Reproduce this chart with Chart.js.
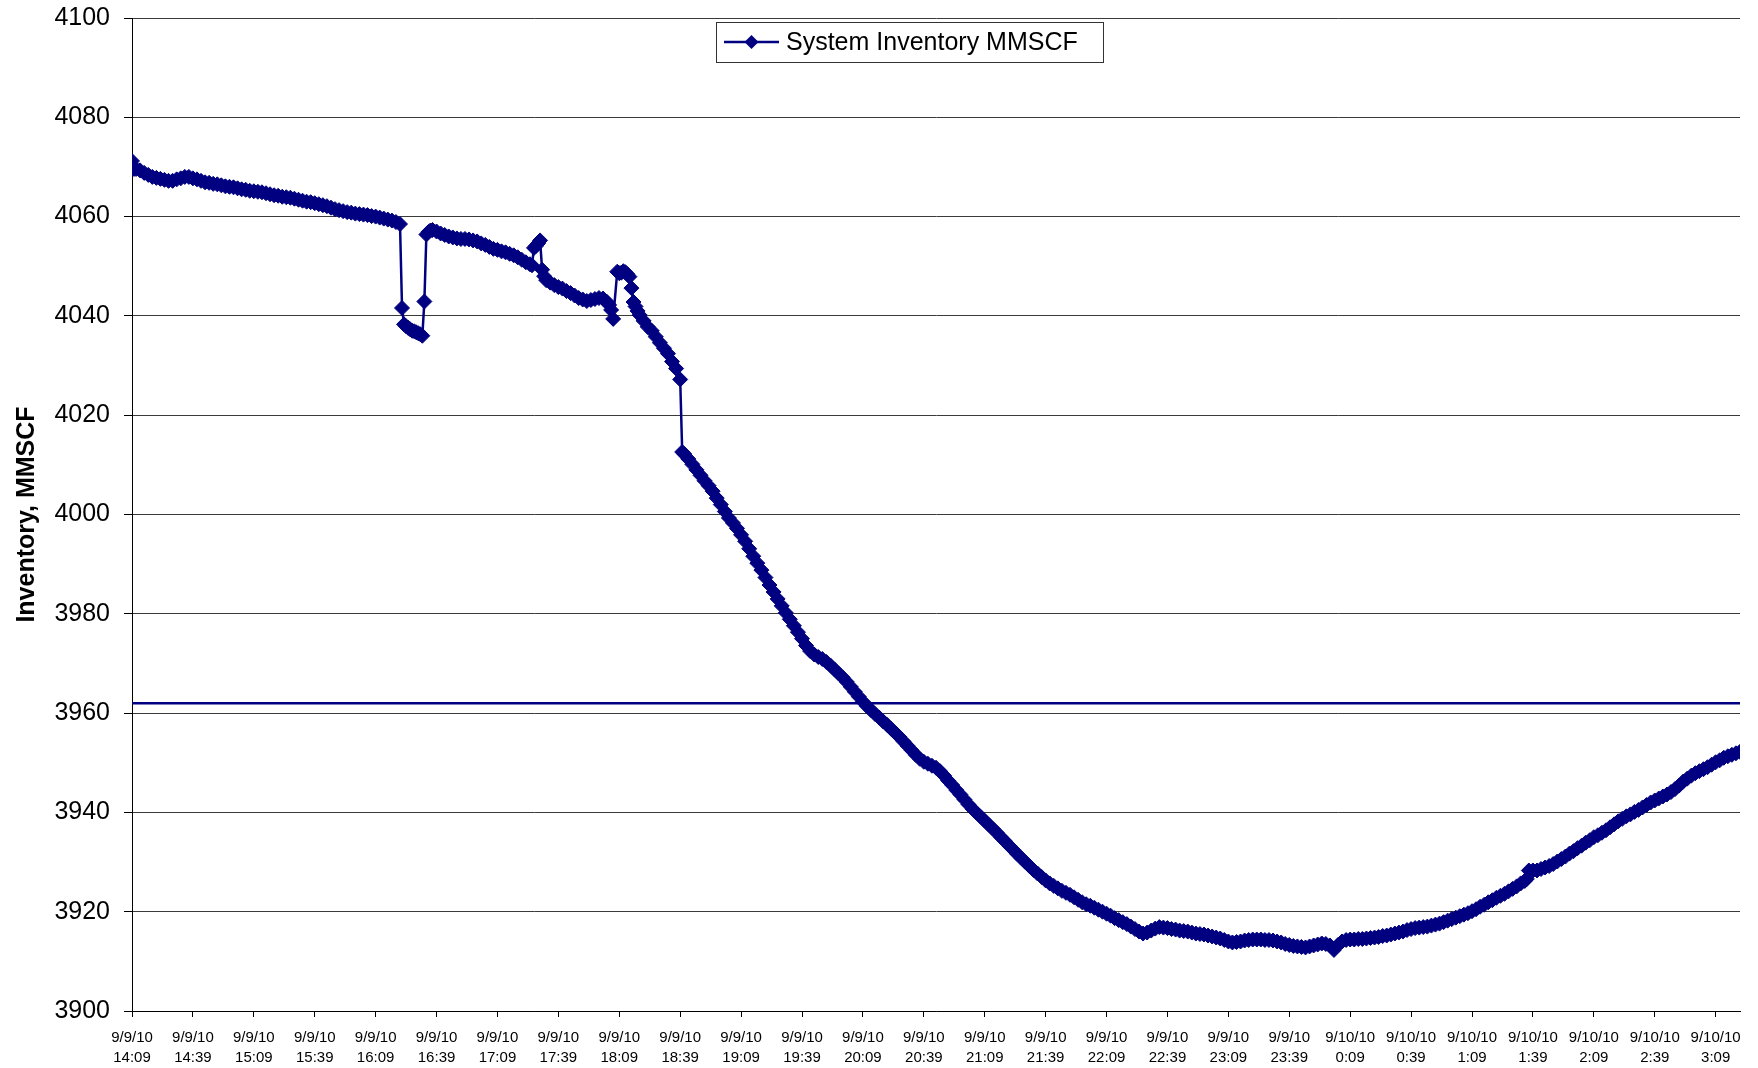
<!DOCTYPE html>
<html>
<head>
<meta charset="utf-8">
<title>System Inventory</title>
<script src="https://cdn.jsdelivr.net/npm/chart.js@4.4.1/dist/chart.umd.min.js"></script>
<style>
  html, body { margin: 0; padding: 0; background: #fff; }
  #wrap { width: 1758px; height: 1068px; position: relative; }
</style>
</head>
<body>
<div id="wrap"><canvas id="chart"></canvas></div>
<script>
// minutes after 9/9/10 14:09 (rows line up with the inventory rows below)
const minutes = [
  0, 1, 2, 4, 6, 8, 10, 12, 14, 16,
  18, 20, 22, 24, 26, 28, 30, 32, 34, 36,
  38, 40, 42, 44, 46, 48, 50, 52, 54, 56,
  58, 60, 62, 64, 66, 68, 70, 72, 74, 76,
  78, 80, 82, 84, 86, 88, 90, 92, 94, 96,
  98, 100, 102, 104, 106, 108, 110, 112, 114, 116,
  118, 120, 122, 124, 126, 128, 130, 132, 133, 134,
  135, 136, 137, 138, 139, 140, 141, 142, 143, 144,
  145, 146, 147, 148, 150, 152, 154, 156, 158, 160,
  162, 164, 166, 168, 170, 172, 174, 176, 178, 180,
  182, 184, 186, 188, 190, 192, 194, 196, 197, 198,
  199, 200, 201, 202, 203, 204, 206, 208, 210, 212,
  214, 216, 218, 220, 222, 224, 226, 228, 230, 232,
  234, 235, 236, 237, 239, 240, 241, 242, 243, 244,
  245, 246, 247, 248, 249, 250, 252, 254, 256, 258,
  260, 262, 264, 266, 268, 270, 271, 272, 274, 276,
  278, 280, 282, 284, 286, 288, 290, 292, 294, 296,
  298, 300, 302, 304, 306, 308, 310, 312, 314, 316,
  318, 320, 322, 324, 326, 328, 330, 332, 334, 336,
  338, 340, 342, 344, 346, 348, 350, 352, 354, 356,
  358, 360, 362, 364, 366, 368, 370, 372, 374, 376,
  378, 380, 382, 384, 386, 388, 390, 392, 394, 396,
  398, 400, 402, 404, 406, 408, 410, 412, 414, 416,
  418, 420, 422, 424, 426, 428, 430, 432, 434, 436,
  438, 440, 442, 444, 446, 448, 450, 452, 454, 456,
  458, 460, 462, 464, 466, 468, 470, 472, 474, 476,
  478, 480, 482, 484, 486, 488, 490, 492, 494, 496,
  498, 500, 502, 504, 506, 508, 510, 512, 514, 516,
  518, 520, 522, 524, 526, 528, 530, 532, 534, 536,
  538, 540, 542, 544, 546, 548, 550, 552, 554, 556,
  558, 560, 562, 564, 566, 568, 570, 572, 574, 576,
  578, 580, 582, 584, 586, 588, 590, 592, 594, 596,
  598, 600, 602, 604, 606, 608, 610, 612, 614, 616,
  618, 620, 622, 624, 626, 628, 630, 632, 634, 636,
  638, 640, 642, 644, 646, 648, 650, 652, 654, 656,
  658, 660, 662, 664, 666, 668, 670, 672, 674, 676,
  678, 680, 682, 684, 686, 687, 688, 690, 692, 694,
  696, 698, 700, 702, 704, 706, 708, 710, 712, 714,
  716, 718, 720, 722, 724, 726, 728, 730, 732, 734,
  736, 738, 740, 742, 744, 746, 748, 750, 752, 754,
  756, 758, 760, 762, 764, 766, 768, 770, 772, 774,
  776, 778, 780, 782, 784, 786, 788, 790, 792
];
// System Inventory MMSCF
const inventory = [
  4071.2, 4069.6, 4069.6, 4069.3, 4068.8, 4068.4, 4068.0, 4067.8, 4067.6, 4067.4,
  4067.2, 4067.2, 4067.5, 4067.7, 4068.0, 4068.0, 4067.7, 4067.5, 4067.2, 4066.9,
  4066.8, 4066.6, 4066.5, 4066.3, 4066.1, 4066.0, 4065.9, 4065.7, 4065.5, 4065.4,
  4065.2, 4065.1, 4065.0, 4064.9, 4064.7, 4064.5, 4064.3, 4064.2, 4064.0, 4063.9,
  4063.8, 4063.6, 4063.4, 4063.2, 4063.0, 4062.9, 4062.7, 4062.5, 4062.3, 4062.1,
  4061.8, 4061.5, 4061.3, 4061.1, 4060.9, 4060.8, 4060.6, 4060.5, 4060.4, 4060.3,
  4060.1, 4060.0, 4059.8, 4059.6, 4059.4, 4059.2, 4058.9, 4058.5, 4041.6, 4038.3,
  4037.9, 4037.6, 4037.3, 4037.0, 4036.9, 4036.7, 4036.5, 4036.3, 4036.0, 4042.9,
  4056.4, 4056.9, 4057.2, 4057.3, 4057.0, 4056.6, 4056.3, 4056.0, 4055.8, 4055.6,
  4055.5, 4055.5, 4055.4, 4055.2, 4055.0, 4054.6, 4054.3, 4053.9, 4053.5, 4053.3,
  4053.0, 4052.8, 4052.5, 4052.2, 4051.8, 4051.3, 4050.8, 4050.4, 4050.2, 4053.7,
  4054.1, 4054.6, 4055.2, 4049.3, 4048.0, 4047.2, 4046.7, 4046.2, 4045.8, 4045.5,
  4045.0, 4044.6, 4044.1, 4043.6, 4043.3, 4043.0, 4043.2, 4043.4, 4043.6, 4043.5,
  4042.8, 4042.2, 4041.2, 4039.4, 4048.9, 4048.6, 4048.7, 4049.0, 4048.8, 4048.4,
  4047.9, 4045.6, 4042.8, 4041.9, 4041.0, 4040.2, 4039.0, 4037.8, 4037.0, 4035.8,
  4034.6, 4033.5, 4032.4, 4030.8, 4029.4, 4027.2, 4012.6, 4012.2, 4011.2, 4010.1,
  4009.0, 4007.9, 4006.8, 4005.8, 4004.7, 4003.3, 4002.0, 4000.6, 3999.3, 3998.3,
  3997.2, 3995.9, 3994.6, 3993.1, 3991.6, 3990.2, 3988.8, 3987.3, 3985.8, 3984.4,
  3983.0, 3981.6, 3980.2, 3978.9, 3977.6, 3976.3, 3975.0, 3973.6, 3972.5, 3971.8,
  3971.3, 3970.9, 3970.3, 3969.6, 3968.8, 3968.0, 3967.2, 3966.3, 3965.3, 3964.3,
  3963.3, 3962.3, 3961.4, 3960.6, 3959.8, 3959.1, 3958.3, 3957.6, 3956.8, 3956.0,
  3955.2, 3954.3, 3953.4, 3952.5, 3951.6, 3950.8, 3950.2, 3949.8, 3949.4, 3949.0,
  3948.3, 3947.4, 3946.4, 3945.5, 3944.5, 3943.6, 3942.6, 3941.6, 3940.7, 3939.9,
  3939.1, 3938.3, 3937.5, 3936.7, 3935.9, 3935.0, 3934.2, 3933.3, 3932.5, 3931.6,
  3930.8, 3930.0, 3929.2, 3928.4, 3927.7, 3927.0, 3926.3, 3925.7, 3925.2, 3924.7,
  3924.2, 3923.8, 3923.4, 3922.9, 3922.4, 3921.9, 3921.5, 3921.2, 3920.8, 3920.4,
  3920.0, 3919.6, 3919.2, 3918.7, 3918.3, 3917.9, 3917.5, 3917.0, 3916.5, 3916.0,
  3915.6, 3915.8, 3916.2, 3916.6, 3916.9, 3916.8, 3916.7, 3916.5, 3916.4, 3916.2,
  3916.1, 3916.0, 3915.8, 3915.6, 3915.5, 3915.4, 3915.2, 3915.0, 3914.8, 3914.6,
  3914.3, 3914.0, 3913.8, 3913.9, 3914.0, 3914.2, 3914.3, 3914.4, 3914.4, 3914.4,
  3914.3, 3914.3, 3914.2, 3914.0, 3913.8, 3913.5, 3913.3, 3913.1, 3913.0, 3912.9,
  3912.8, 3913.0, 3913.2, 3913.4, 3913.6, 3913.5, 3913.2, 3912.3, 3913.3, 3914.0,
  3914.3, 3914.4, 3914.4, 3914.5, 3914.5, 3914.6, 3914.7, 3914.8, 3914.9, 3915.1,
  3915.2, 3915.4, 3915.6, 3915.8, 3916.0, 3916.3, 3916.5, 3916.7, 3916.8, 3916.9,
  3917.0, 3917.2, 3917.4, 3917.6, 3917.9, 3918.2, 3918.5, 3918.8, 3919.1, 3919.4,
  3919.7, 3920.1, 3920.5, 3921.0, 3921.4, 3921.9, 3922.3, 3922.8, 3923.2, 3923.6,
  3924.1, 3924.6, 3925.1, 3925.7, 3926.2, 3926.6, 3928.3, 3928.3, 3928.3, 3928.6,
  3928.9, 3929.2, 3929.6, 3930.1, 3930.6, 3931.1, 3931.7, 3932.2, 3932.8, 3933.3,
  3933.9, 3934.4, 3935.0, 3935.4, 3935.9, 3936.4, 3937.0, 3937.6, 3938.2, 3938.7,
  3939.2, 3939.6, 3940.1, 3940.5, 3941.0, 3941.5, 3942.0, 3942.4, 3942.8, 3943.2,
  3943.6, 3944.1, 3944.7, 3945.4, 3946.2, 3946.8, 3947.4, 3947.9, 3948.3, 3948.7,
  3949.1, 3949.6, 3950.1, 3950.5, 3951.0, 3951.3, 3951.6, 3951.9, 3952.2
];
const targetLevel = 3962;

const tickMinutes = [0, 30, 60, 90, 120, 150, 180, 210, 240, 270, 300, 330, 360, 390, 420, 450, 480, 510, 540, 570, 600, 630, 660, 690, 720, 750, 780];
const tickDates = [
  '9/9/10', '9/9/10', '9/9/10', '9/9/10', '9/9/10', '9/9/10', '9/9/10', '9/9/10', '9/9/10', '9/9/10',
  '9/9/10', '9/9/10', '9/9/10', '9/9/10', '9/9/10', '9/9/10', '9/9/10', '9/9/10', '9/9/10', '9/9/10',
  '9/10/10', '9/10/10', '9/10/10', '9/10/10', '9/10/10', '9/10/10', '9/10/10'
];
const tickTimes = [
  '14:09', '14:39', '15:09', '15:39', '16:09', '16:39', '17:09', '17:39', '18:09', '18:39',
  '19:09', '19:39', '20:09', '20:39', '21:09', '21:39', '22:09', '22:39', '23:09', '23:39',
  '0:09', '0:39', '1:09', '1:39', '2:09', '2:39', '3:09'
];

const NAVY = '#000080';
const FONT = "'Liberation Sans', Arial, sans-serif";

// legend box drawn inside the plot, near the top
const floatingLegend = {
  id: 'floatingLegend',
  afterDraw(chart) {
    const ctx = chart.ctx;
    const area = chart.chartArea;
    const x = area.left + 584, y = area.top + 4, w = 387, h = 40;
    ctx.save();
    ctx.fillStyle = '#fff';
    ctx.fillRect(x, y, w, h);
    ctx.strokeStyle = '#333';
    ctx.lineWidth = 1;
    ctx.strokeRect(x + 0.5, y + 0.5, w, h);
    const cy = y + h / 2;
    ctx.strokeStyle = NAVY;
    ctx.lineWidth = 2.5;
    ctx.beginPath();
    ctx.moveTo(x + 8, cy);
    ctx.lineTo(x + 63, cy);
    ctx.stroke();
    ctx.fillStyle = NAVY;
    ctx.beginPath();
    ctx.moveTo(x + 35.5 - 7, cy);
    ctx.lineTo(x + 35.5, cy - 7);
    ctx.lineTo(x + 35.5 + 7, cy);
    ctx.lineTo(x + 35.5, cy + 7);
    ctx.closePath();
    ctx.fill();
    ctx.fillStyle = '#000';
    ctx.font = '25px ' + FONT;
    ctx.textBaseline = 'middle';
    ctx.textAlign = 'left';
    ctx.fillText(chart.data.datasets[0].label, x + 70, cy + 1);
    ctx.restore();
  }
};

new Chart(document.getElementById('chart'), {
  type: 'line',
  data: {
    datasets: [
      {
        label: 'System Inventory MMSCF',
        data: minutes.map((m, i) => ({ x: m, y: inventory[i] })),
        borderColor: NAVY,
        backgroundColor: NAVY,
        borderWidth: 2.5,
        pointStyle: 'rectRot',
        pointRadius: 7.5,
        pointBorderWidth: 1,
        pointBorderColor: NAVY,
        pointBackgroundColor: NAVY,
        tension: 0,
        order: 0
      },
      {
        label: 'Target',
        data: [{ x: 0, y: targetLevel }, { x: 792, y: targetLevel }],
        borderColor: NAVY,
        borderWidth: 2.5,
        pointRadius: 0,
        order: 1
      }
    ]
  },
  options: {
    responsive: true,
    maintainAspectRatio: false,
    animation: false,
    layout: { padding: { top: 18, right: 18, left: 0, bottom: 0 } },
    plugins: {
      legend: { display: false },
      tooltip: { enabled: false }
    },
    scales: {
      x: {
        type: 'linear',
        min: 0,
        max: 792,
        afterBuildTicks: (scale) => {
          scale.ticks = tickMinutes.map(v => ({ value: v }));
        },
        afterFit: (scale) => { scale.height = 57; },
        border: { color: '#000', width: 1 },
        grid: { drawOnChartArea: false, tickLength: 6, tickColor: '#000' },
        ticks: {
          autoSkip: false,
          maxRotation: 0,
          minRotation: 0,
          padding: 11,
          color: '#000',
          font: { family: FONT, size: 15, lineHeight: 1.33 },
          callback: (v, i) => [tickDates[i], tickTimes[i]]
        }
      },
      y: {
        min: 3900,
        max: 4100,
        afterFit: (scale) => {
          scale.width = 132;
          scale.paddingTop = 0;
          scale.paddingBottom = 0;
        },
        border: { color: '#000', width: 1 },
        grid: { color: '#3a3a3a', tickColor: '#000', tickLength: 8 },
        ticks: {
          stepSize: 20,
          padding: 14,
          color: '#000',
          font: { family: FONT, size: 25 },
          callback: (v) => String(v)
        },
        title: {
          display: true,
          text: 'Inventory, MMSCF',
          color: '#000',
          font: { family: FONT, size: 25, weight: 'bold' },
          padding: { top: 12, bottom: 0 }
        }
      }
    }
  },
  plugins: [floatingLegend]
});
</script>
</body>
</html>
